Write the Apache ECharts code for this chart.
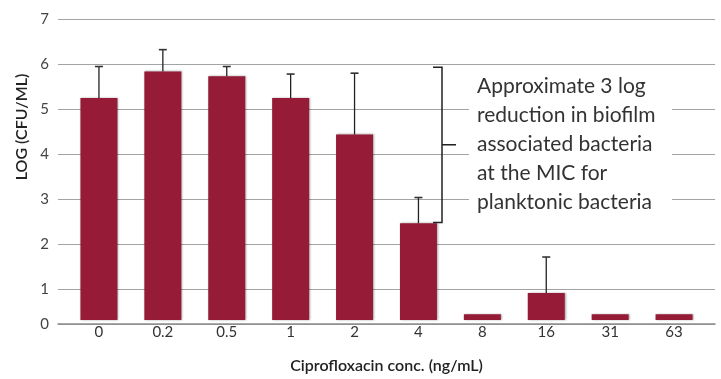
<!DOCTYPE html>
<html><head><meta charset="utf-8">
<script src="https://cdn.jsdelivr.net/npm/echarts@6/dist/echarts.min.js"></script>
<style>html,body{margin:0;padding:0;background:#fff}#c{width:721px;height:379px}</style>
</head><body><div id="c"></div>
<script>
const categories = ['0','0.2','0.5','1','2','4','8','16','31','63'];
const means = [5.22, 5.82, 5.71, 5.22, 4.40, 2.40, 0.35, 0.83, 0.35, 0.35];
const errTops = [5.93, 6.31, 5.93, 5.76, 5.78, 2.98, null, 1.64, null, null];
const yTicks = [0,1,2,3,4,5,6,7];
const annotationLines = ['Approximate 3 log','reduction in biofilm','associated bacteria','at the MIC for','planktonic bacteria'];
const bracketRange = [5.93, 2.48];

const Y_MIN = 0.222, Y_MAX = 7;
const FONT = 'Lato, "Noto Sans", sans-serif';
const chart = echarts.init(document.getElementById('c'), null, {renderer:'canvas'});

// tick 0 sits on the cut baseline of the axis
const tickVals = yTicks.map(v => Math.max(v, Y_MIN));

const option = {
  animation:false,
  backgroundColor:'#fff',
  grid:[
    {left:58, right:6, top:19, bottom:55},
    {left:67, right:15, top:19, bottom:55}
  ],
  xAxis:[
    {gridIndex:0, type:'category', data:categories, axisLine:{show:true, lineStyle:{color:'#8c8c8c', width:1.5}}, axisTick:{show:false}, axisLabel:{show:false}},
    {gridIndex:1, type:'category', data:categories, axisLine:{show:false}, axisTick:{show:false},
     axisLabel:{color:'#333', fontSize:15, fontFamily:FONT, margin:5},
     name:'Ciprofloxacin conc. (ng/mL)', nameLocation:'middle', nameGap:38,
     nameTextStyle:{color:'#222', fontSize:16, fontWeight:600, fontFamily:FONT}}
  ],
  yAxis:[
    {gridIndex:0, type:'value', min:Y_MIN, max:Y_MAX,
     axisLine:{show:false},
     axisTick:{show:false, customValues:tickVals},
     axisLabel:{color:'#444', fontSize:15, fontFamily:FONT, margin:9, customValues:tickVals,
       formatter:function(v){ return String(Math.round(v)); }},
     splitLine:{show:true, lineStyle:{color:'#a3a3a3', width:1.2}}},
    {gridIndex:1, type:'value', min:Y_MIN, max:Y_MAX, show:false, splitLine:{show:false}}
  ],
  series:[
    {type:'bar', xAxisIndex:1, yAxisIndex:1, data:means, barWidth:37,
     itemStyle:{color:'#961b37', shadowColor:'rgba(0,0,0,0.35)', shadowBlur:2, shadowOffsetX:1, shadowOffsetY:0}},
    {type:'custom', xAxisIndex:1, yAxisIndex:1, z:5,
     data:errTops.map((e,i)=>[i, means[i], e]),
     renderItem:function(params, api){
       const e = api.value(2);
       if (e === null || e === undefined || isNaN(e)) return;
       const i = api.value(0);
       const p0 = api.coord([i, api.value(1)]);
       const p1 = api.coord([i, e]);
       return {type:'group', children:[
         {type:'line', shape:{x1:p0[0], y1:p0[1], x2:p1[0], y2:p1[1]}, style:{stroke:'#222', lineWidth:1.3}},
         {type:'line', shape:{x1:p1[0]-4, y1:p1[1], x2:p1[0]+4, y2:p1[1]}, style:{stroke:'#333', lineWidth:1.6}}
       ]};
     }}
  ]
};
chart.setOption(option);

const yTop = chart.convertToPixel({yAxisIndex:0}, bracketRange[0]);
const yBot = chart.convertToPixel({yAxisIndex:0}, bracketRange[1]);
const yMid = (yTop + yBot) / 2;
const bx = 442;
const lineH = 29;
const textTop = 73;
const g = [
  {type:'rect', shape:{x:469, y:68, width:203, height:146}, style:{fill:'#fff'}, z:10},
  {type:'polyline', shape:{points:[[bx-9,yTop],[bx,yTop],[bx,yBot],[bx-9,yBot]]}, style:{stroke:'#222', lineWidth:1.5, fill:null}, z:11},
  {type:'line', shape:{x1:bx, y1:yMid, x2:bx+14, y2:yMid}, style:{stroke:'#222', lineWidth:1.5}, z:11},
  {type:'text', x:22, y:127, rotation:Math.PI/2, style:{text:'LOG (CFU/ML)', fill:'#222', font:'600 16px '+FONT, textAlign:'center', textVerticalAlign:'middle'}, z:11}
];
annotationLines.forEach((t, k) => {
  g.push({type:'text', x:477, y:textTop + k*lineH + 13, style:{text:t, fill:'#333', font:'21px '+FONT, textVerticalAlign:'middle'}, z:12});
});
chart.setOption({graphic:g});
</script></body></html>
